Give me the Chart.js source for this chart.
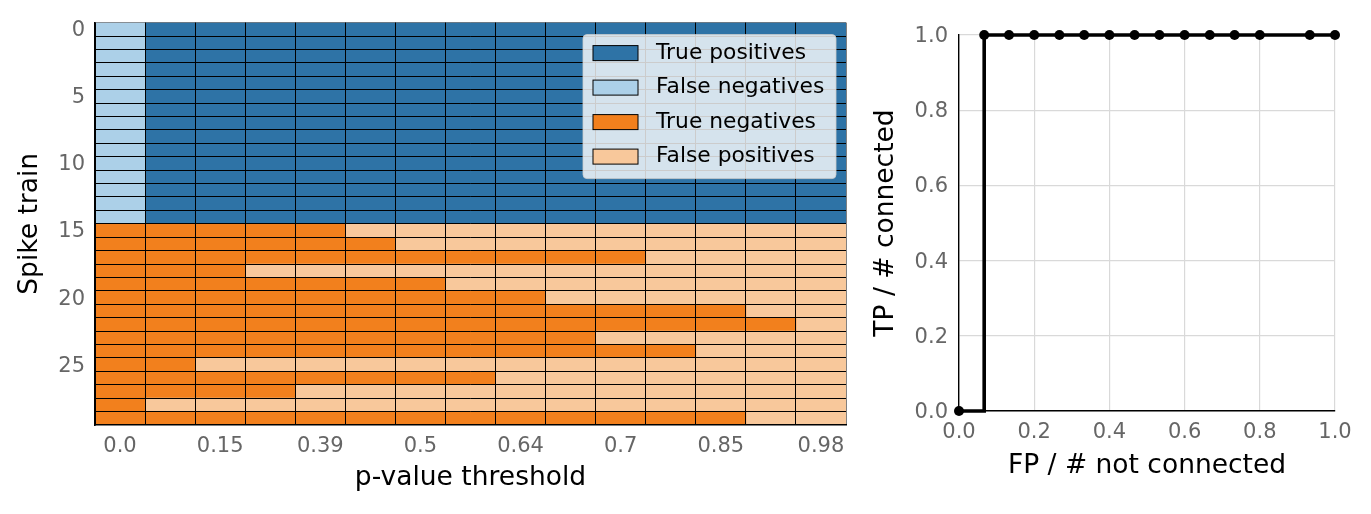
<!DOCTYPE html>
<html>
<head>
<meta charset="utf-8">
<script src="https://cdn.jsdelivr.net/npm/chart.js@4.4.1/dist/chart.umd.min.js"></script>
<style>
  html, body { margin: 0; padding: 0; background: #fff; }
  #wrap { position: relative; width: 1371px; height: 514px; overflow: hidden; }
  canvas { position: absolute; top: 0; }
  #heat { left: 0; }
  #roc { left: 860px; }
</style>
</head>
<body>
<div id="wrap">
  <canvas id="heat" width="860" height="514"></canvas>
  <canvas id="roc" width="511" height="514"></canvas>
</div>
<script>
// ---------------- data ----------------
const spikeTrains = Array.from({length: 30}, (_, i) => String(i));
const thresholdCount = 15;
const thresholdTickLabels = ['0.0', '0.15', '0.39', '0.5', '0.64', '0.7', '0.85', '0.98'];
// true = connected spike train, false = not connected
const connected = [
  true, true, true, true, true, true, true, true, true, true, true, true, true, true, true,
  false, false, false, false, false, false, false, false, false, false, false, false, false, false, false
];
// first threshold column at which the spike train is flagged as connected
const firstFlaggedColumn = [
  1, 1, 1, 1, 1, 1, 1, 1, 1, 1, 1, 1, 1, 1, 1,
  5, 6, 11, 3, 7, 9, 13, 14, 10, 12, 2, 8, 4, 1, 13
];
const legendLabels = ['True positives', 'False negatives', 'True negatives', 'False positives'];
const legendColors = ['#2e73a6', '#acd0e8', '#f2801d', '#f8c89b'];

// ROC curve points
const fpRate = [0, 0.067, 0.133, 0.2, 0.267, 0.333, 0.4, 0.467, 0.533, 0.6, 0.667, 0.733, 0.8, 0.933, 1.0];
const tpRate = [0, 1, 1, 1, 1, 1, 1, 1, 1, 1, 1, 1, 1, 1, 1];

// ---------------- helpers ----------------
Chart.defaults.font.family = "'DejaVu Sans', sans-serif";
Chart.defaults.animation = false;
const TICK_COLOR = '#666666';
const TICK_SIZE = 21;
const TITLE_SIZE = 26.5;

function cellColor(row, col) {
  const flagged = col >= firstFlaggedColumn[row];
  if (connected[row]) return flagged ? legendColors[0] : legendColors[1];
  return flagged ? legendColors[3] : legendColors[2];
}

const heatDatasets = [];
for (let c = 0; c < thresholdCount; c++) {
  heatDatasets.push({
    label: 'col' + c,
    data: spikeTrains.map(() => 1),
    backgroundColor: spikeTrains.map((_, r) => cellColor(r, c)),
    borderWidth: 0,
    barPercentage: 1,
    categoryPercentage: 1,
    stack: 'cells'
  });
}

const legendPlugin = {
  id: 'cellLegend',
  afterDraw(chart) {
    const ctx = chart.ctx;
    const area = chart.chartArea;
    const w = 253, h = 144;
    const x0 = area.right - 10 - w, y0 = area.top + 12;
    ctx.save();
    ctx.beginPath();
    const r = 4;
    ctx.moveTo(x0 + r, y0);
    ctx.lineTo(x0 + w - r, y0); ctx.quadraticCurveTo(x0 + w, y0, x0 + w, y0 + r);
    ctx.lineTo(x0 + w, y0 + h - r); ctx.quadraticCurveTo(x0 + w, y0 + h, x0 + w - r, y0 + h);
    ctx.lineTo(x0 + r, y0 + h); ctx.quadraticCurveTo(x0, y0 + h, x0, y0 + h - r);
    ctx.lineTo(x0, y0 + r); ctx.quadraticCurveTo(x0, y0, x0 + r, y0);
    ctx.closePath();
    ctx.fillStyle = 'rgba(255,255,255,0.8)';
    ctx.fill();
    ctx.strokeStyle = 'rgba(204,204,204,0.8)';
    ctx.lineWidth = 1;
    ctx.stroke();
    ctx.font = "21.8px 'DejaVu Sans'";
    ctx.textBaseline = 'middle';
    ctx.textAlign = 'left';
    legendLabels.forEach((lab, i) => {
      const cy = y0 + 18.5 + i * 34.5;
      ctx.fillStyle = legendColors[i];
      ctx.fillRect(x0 + 10, cy - 7.5, 45, 15);
      ctx.strokeStyle = '#000';
      ctx.lineWidth = 1;
      ctx.strokeRect(x0 + 10, cy - 7.5, 45, 15);
      ctx.fillStyle = '#000';
      ctx.fillText(lab, x0 + 73, cy);
    });
    ctx.restore();
  }
};

// ---------------- heatmap ----------------
new Chart(document.getElementById('heat'), {
  type: 'bar',
  data: { labels: spikeTrains, datasets: heatDatasets },
  options: {
    indexAxis: 'y',
    responsive: false,
    maintainAspectRatio: false,
    layout: { padding: { left: 0, top: 20, right: 14, bottom: 0 } },
    plugins: { legend: { display: false }, tooltip: { enabled: false } },
    scales: {
      x: {
        type: 'linear',
        stacked: true,
        min: 0,
        max: thresholdCount,
        grid: {
          display: true,
          z: 1,
          drawTicks: false,
          lineWidth: ctx => (ctx.tick && ctx.tick.value === thresholdCount) ? 0.5 : 1,
          color: ctx => (ctx.tick && Number.isInteger(ctx.tick.value)) ? '#000' : 'rgba(0,0,0,0)'
        },
        border: { display: true, z: 2, color: '#000', width: 1.6 },
        afterBuildTicks(scale) {
          const t = [];
          for (let v = 0; v <= thresholdCount; v += 0.5) t.push({ value: v });
          scale.ticks = t;
        },
        afterFit(scale) { scale.height = 89; },
        ticks: {
          autoSkip: false,
          maxRotation: 0,
          padding: 9,
          color: TICK_COLOR,
          font: { size: TICK_SIZE },
          callback: (v) => {
            const k = v - 0.5;
            return (k >= 0 && k % 2 === 0) ? thresholdTickLabels[k / 2] : '';
          }
        },
        title: {
          display: true,
          text: 'p-value threshold',
          color: '#000',
          font: { size: TITLE_SIZE },
          padding: { top: 0, bottom: 20.2 }
        }
      },
      y: {
        type: 'category',
        stacked: true,
        offset: true,
        grid: {
          display: true, z: 1, offset: true, drawTicks: false,
          color: ctx => ctx.index === 0 ? 'rgba(0,0,0,0.4)' : '#000',
          lineWidth: 1
        },
        border: { display: true, z: 2, color: '#000', width: 1.6 },
        afterFit(scale) { scale.width = 95; },
        ticks: {
          autoSkip: false,
          padding: 10,
          labelOffset: 1.5,
          color: TICK_COLOR,
          font: { size: TICK_SIZE },
          callback: function (v, i) { return i % 5 === 0 ? this.getLabelForValue(v) : ''; }
        },
        title: {
          display: true,
          text: 'Spike train',
          color: '#000',
          font: { size: TITLE_SIZE },
          padding: { top: 13.8, bottom: 0 }
        }
      }
    }
  },
  plugins: [legendPlugin]
});

// ---------------- ROC ----------------
new Chart(document.getElementById('roc'), {
  type: 'scatter',
  data: {
    datasets: [{
      data: fpRate.map((x, i) => ({ x: x, y: tpRate[i] })),
      showLine: true,
      stepped: true,
      borderColor: '#000',
      backgroundColor: '#000',
      borderWidth: 3.6,
      pointRadius: 5,
      pointBackgroundColor: '#000',
      pointBorderWidth: 0,
      clip: false
    }]
  },
  options: {
    responsive: false,
    maintainAspectRatio: false,
    layout: { padding: { left: 0, top: 35, right: 36, bottom: 0 } },
    plugins: { legend: { display: false }, tooltip: { enabled: false } },
    scales: {
      x: {
        type: 'linear',
        min: 0, max: 1,
        grid: { color: '#d9d9d9', lineWidth: 1.2, drawTicks: false },
        border: { display: true, color: '#000', width: 1.4 },
        afterFit(scale) { scale.height = 103; },
        ticks: {
          stepSize: 0.2,
          padding: 9,
          color: TICK_COLOR,
          font: { size: TICK_SIZE },
          maxRotation: 0,
          callback: v => Number(v).toFixed(1)
        },
        title: {
          display: true,
          text: 'FP / # not connected',
          color: '#000',
          font: { size: TITLE_SIZE },
          padding: { top: 0, bottom: 32.2 }
        }
      },
      y: {
        type: 'linear',
        min: 0, max: 1,
        grid: { color: '#d9d9d9', lineWidth: 1.2, drawTicks: false },
        border: { display: true, color: '#000', width: 1.4 },
        afterFit(scale) { scale.width = 99; },
        ticks: {
          stepSize: 0.2,
          padding: 11,
          labelOffset: 1.5,
          color: TICK_COLOR,
          font: { size: TICK_SIZE },
          callback: v => Number(v).toFixed(1)
        },
        title: {
          display: true,
          text: 'TP / # connected',
          color: '#000',
          font: { size: TITLE_SIZE },
          padding: { top: 10.2, bottom: 0 }
        }
      }
    }
  }
});
</script>
</body>
</html>
